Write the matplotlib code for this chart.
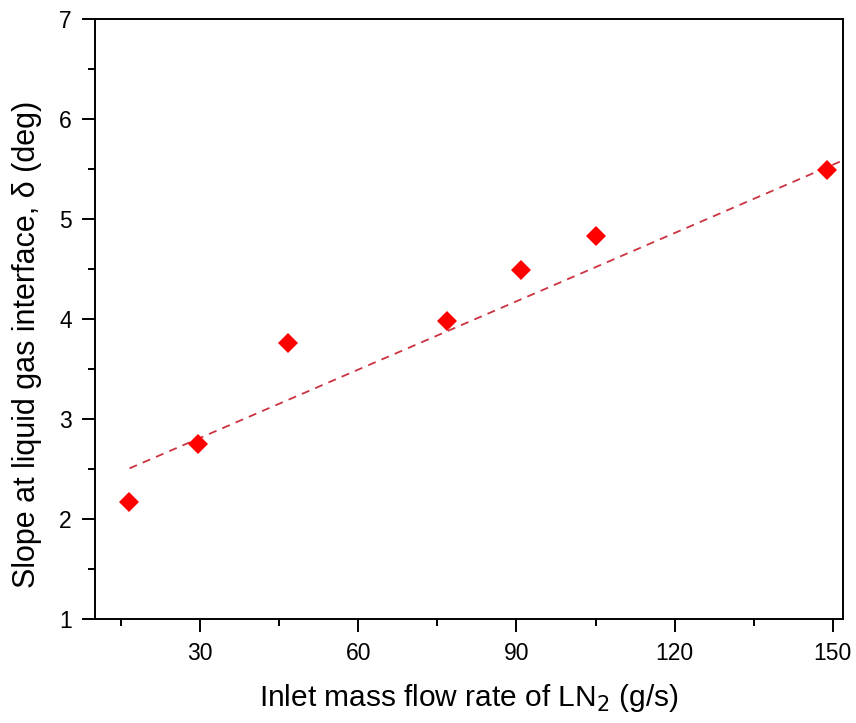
import matplotlib

matplotlib.use("Agg")
import matplotlib.pyplot as plt
from matplotlib.ticker import MultipleLocator

flow_rate = [16.6, 29.6, 46.7, 76.8, 90.9, 105.1, 148.9]
slope_deg = [2.175, 2.748, 3.763, 3.98, 4.49, 4.83, 5.49]

# dashed trend line, end points
fit_x = [16.6, 151.7]
fit_y = [2.508, 5.58]

x_ticks = [30, 60, 90, 120, 150]
y_ticks = [1, 2, 3, 4, 5, 6, 7]

plt.rcParams["font.family"] = ["Liberation Sans", "DejaVu Sans"]

fig = plt.figure(figsize=(8.56, 7.23), dpi=100)
ax = fig.add_axes([0.1106, 0.1434, 0.8746, 0.8307])

ax.plot(fit_x, fit_y, linestyle=(0, (4.5, 3.5)), color="#cc3340", linewidth=1.3)
ax.plot(flow_rate, slope_deg, linestyle="none", marker="D", markersize=10,
        color="#ff0000", markeredgewidth=0)

ax.set_xlim(10, 152)
ax.set_ylim(1, 7)
ax.set_xticks(x_ticks)
ax.set_yticks(y_ticks)
ax.xaxis.set_minor_locator(MultipleLocator(15))
ax.yaxis.set_minor_locator(MultipleLocator(0.5))

ax.tick_params(which="major", direction="out", length=9.4, width=1.4,
               labelsize=16.5, pad=7, top=False, right=False)
ax.tick_params(which="minor", direction="out", length=5, width=1.4,
               top=False, right=False)
for spine in ax.spines.values():
    spine.set_linewidth(1.4)

ax.set_xlabel("Inlet mass flow rate of LN$_2$ (g/s)", fontsize=21.5, labelpad=12)
ax.set_ylabel("Slope at liquid gas interface, δ (deg)", fontsize=22)
ax.yaxis.set_label_coords(-0.07, 0.458)

fig.savefig("out.png", dpi=100)
